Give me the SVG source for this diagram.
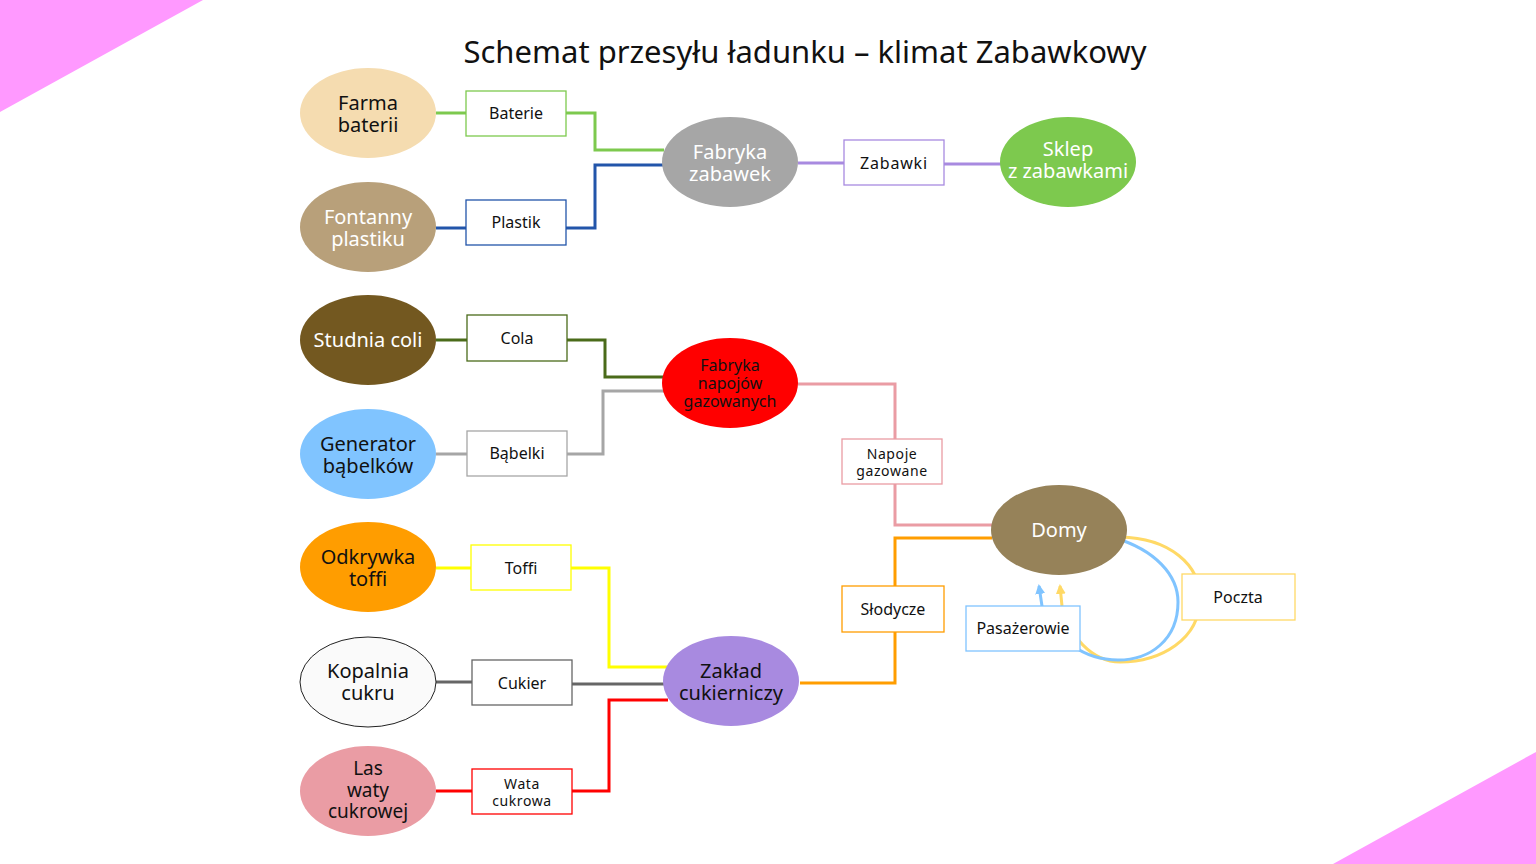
<svg xmlns="http://www.w3.org/2000/svg" width="1536" height="864" viewBox="0 0 1536 864">
<defs>
<style>
text{font-family:"Noto Sans","Open Sans","DejaVu Sans",sans-serif;text-anchor:middle}
.t{font-size:31px;fill:#111}
.n{font-size:20px}
.w{fill:#fff}
.k{fill:#111}
.b{font-size:16px;fill:#111}
.s{font-size:14px;fill:#111;letter-spacing:0.6px}
.box{fill:#fff;stroke-width:1.3}
.c{fill:none;stroke-width:3}
</style>
<marker id="ab" viewBox="0 0 10 10" refX="8" refY="5" markerWidth="10" markerHeight="10" markerUnits="userSpaceOnUse" orient="auto"><path d="M0,0 L10,5 L0,10 Z" fill="#80C4FF"/></marker>
<marker id="ay" viewBox="0 0 10 10" refX="8" refY="5" markerWidth="10" markerHeight="10" markerUnits="userSpaceOnUse" orient="auto"><path d="M0,0 L10,5 L0,10 Z" fill="#FFD966"/></marker>
</defs>
<rect width="1536" height="864" fill="#fff"/>
<polygon points="0,0 203,0 0,112" fill="#FF99FF"/>
<polygon points="1536,752 1536,864 1333,864" fill="#FF99FF"/>
<text class="t" x="805" y="63">Schemat przesyłu ładunku – klimat Zabawkowy</text>

<g id="connectors">
<path class="c" stroke="#7DC94E" d="M436,113 H466 M566,113 H595 V150 H664"/>
<path class="c" stroke="#2255AA" d="M436,228 H466 M566,228 H595 V165 H664"/>
<path class="c" stroke="#4A6B1A" d="M436,340 H467 M567,340 H605 V377 H664"/>
<path class="c" stroke="#A6A6A6" d="M436,454 H467 M567,454 H603 V391 H664"/>
<path class="c" stroke="#FFFF00" d="M436,568 H471 M571,568 H609 V667 H668"/>
<path class="c" stroke="#666666" d="M436,682 H472 M572,684 H664"/>
<path class="c" stroke="#FF0000" d="M436,791 H472 M572,791 H609 V700 H668"/>
<path class="c" stroke="#A88AE0" d="M798,163 H844 M944,164 H1001"/>
<path class="c" stroke="#EA9CA4" d="M798,384 H895 V439 M895,484 V525 H992"/>
<path class="c" stroke="#FF9D00" d="M800,683 H895 V632 M895,586 V538 H992"/>
<path class="c" stroke="#FFD966" marker-end="url(#ay)" d="M1120,537 C1170,538 1200,565 1200,598 C1200,640 1160,662 1120,662 C1092,662 1068,635 1062,606 L1060,586"/>
<path class="c" stroke="#80C4FF" marker-end="url(#ab)" d="M1115,538 C1155,550 1178,575 1178,602 C1178,640 1150,660 1118,660 C1085,660 1055,640 1042,606 L1039,586"/>
</g>

<g id="farma"><ellipse cx="368" cy="113" rx="68" ry="45" fill="#F5DCB0"/><text class="n k" x="368" y="110">Farma</text><text class="n k" x="368" y="132">baterii</text></g>
<g id="fontanny"><ellipse cx="368" cy="227" rx="68" ry="45" fill="#B8A07A"/><text class="n w" x="368" y="224">Fontanny</text><text class="n w" x="368" y="246">plastiku</text></g>
<g id="studnia"><ellipse cx="368" cy="340" rx="68" ry="45" fill="#735820"/><text class="n w" x="368" y="347">Studnia coli</text></g>
<g id="generator"><ellipse cx="368" cy="454" rx="68" ry="45" fill="#80C4FF"/><text class="n k" x="368" y="451">Generator</text><text class="n k" x="368" y="473">bąbelków</text></g>
<g id="odkrywka"><ellipse cx="368" cy="567" rx="68" ry="45" fill="#FF9D00"/><text class="n k" x="368" y="564">Odkrywka</text><text class="n k" x="368" y="586">toffi</text></g>
<g id="kopalnia"><ellipse cx="368" cy="682" rx="68" ry="45" fill="#FAFAFA" stroke="#222" stroke-width="1"/><text class="n k" x="368" y="678">Kopalnia</text><text class="n k" x="368" y="700">cukru</text></g>
<g id="las"><ellipse cx="368" cy="791" rx="68" ry="45" fill="#EA9CA4"/><text class="n k" style="font-size:19px" x="368" y="775">Las</text><text class="n k" style="font-size:19px" x="368" y="797">waty</text><text class="n k" style="font-size:19px" x="368" y="818">cukrowej</text></g>

<g id="fabryka-zabawek"><ellipse cx="730" cy="162" rx="68" ry="45" fill="#A6A6A6"/><text class="n w" x="730" y="159">Fabryka</text><text class="n w" x="730" y="181">zabawek</text></g>
<g id="fabryka-napojow"><ellipse cx="730" cy="383" rx="68" ry="45" fill="#FF0000"/><text class="n k" style="font-size:16px" x="730" y="371">Fabryka</text><text class="n k" style="font-size:16px" x="730" y="389">napojów</text><text class="n k" style="font-size:16px" x="730" y="407">gazowanych</text></g>
<g id="zaklad"><ellipse cx="731" cy="681" rx="68" ry="45" fill="#A88AE0"/><text class="n k" x="731" y="678">Zakład</text><text class="n k" x="731" y="700">cukierniczy</text></g>
<g id="sklep"><ellipse cx="1068" cy="162" rx="68" ry="45" fill="#7DC94E"/><text class="n w" x="1068" y="156">Sklep</text><text class="n w" x="1068" y="178">z zabawkami</text></g>
<g id="domy"><ellipse cx="1059" cy="530" rx="68" ry="45" fill="#968259"/><text class="n w" x="1059" y="537">Domy</text></g>

<g id="box-baterie"><rect class="box" x="466" y="91" width="100" height="45" stroke="#7DC94E"/><text class="b" x="516" y="119">Baterie</text></g>
<g id="box-plastik"><rect class="box" x="466" y="200" width="100" height="45" stroke="#2255AA"/><text class="b" x="516" y="228">Plastik</text></g>
<g id="box-cola"><rect class="box" x="467" y="315" width="100" height="46" stroke="#4A6B1A"/><text class="b" x="517" y="344">Cola</text></g>
<g id="box-babelki"><rect class="box" x="467" y="431" width="100" height="45" stroke="#A6A6A6"/><text class="b" x="517" y="459">Bąbelki</text></g>
<g id="box-toffi"><rect class="box" x="471" y="545" width="100" height="45" stroke="#FFFF00"/><text class="b" x="521" y="574">Toffi</text></g>
<g id="box-cukier"><rect class="box" x="472" y="660" width="100" height="45" stroke="#666666"/><text class="b" x="522" y="689">Cukier</text></g>
<g id="box-wata"><rect class="box" x="472" y="769" width="100" height="45" stroke="#FF0000"/><text class="s" x="522" y="789">Wata</text><text class="s" x="522" y="806">cukrowa</text></g>
<g id="box-zabawki"><rect class="box" x="844" y="140" width="100" height="45" stroke="#A88AE0"/><text class="b" x="894" y="169" style="letter-spacing:0.8px">Zabawki</text></g>
<g id="box-napoje"><rect class="box" x="842" y="439" width="100" height="45" stroke="#EA9CA4"/><text class="s" x="892" y="459">Napoje</text><text class="s" x="892" y="476">gazowane</text></g>
<g id="box-slodycze"><rect class="box" x="842" y="586" width="102" height="46" stroke="#FF9D00"/><text class="b" x="893" y="615">Słodycze</text></g>
<g id="box-pasazerowie"><rect class="box" x="966" y="606" width="114" height="45" stroke="#80C4FF"/><text class="b" x="1023" y="634">Pasażerowie</text></g>
<g id="box-poczta"><rect class="box" x="1182" y="574" width="113" height="46" stroke="#FFD966"/><text class="b" x="1238" y="603">Poczta</text></g>
</svg>
